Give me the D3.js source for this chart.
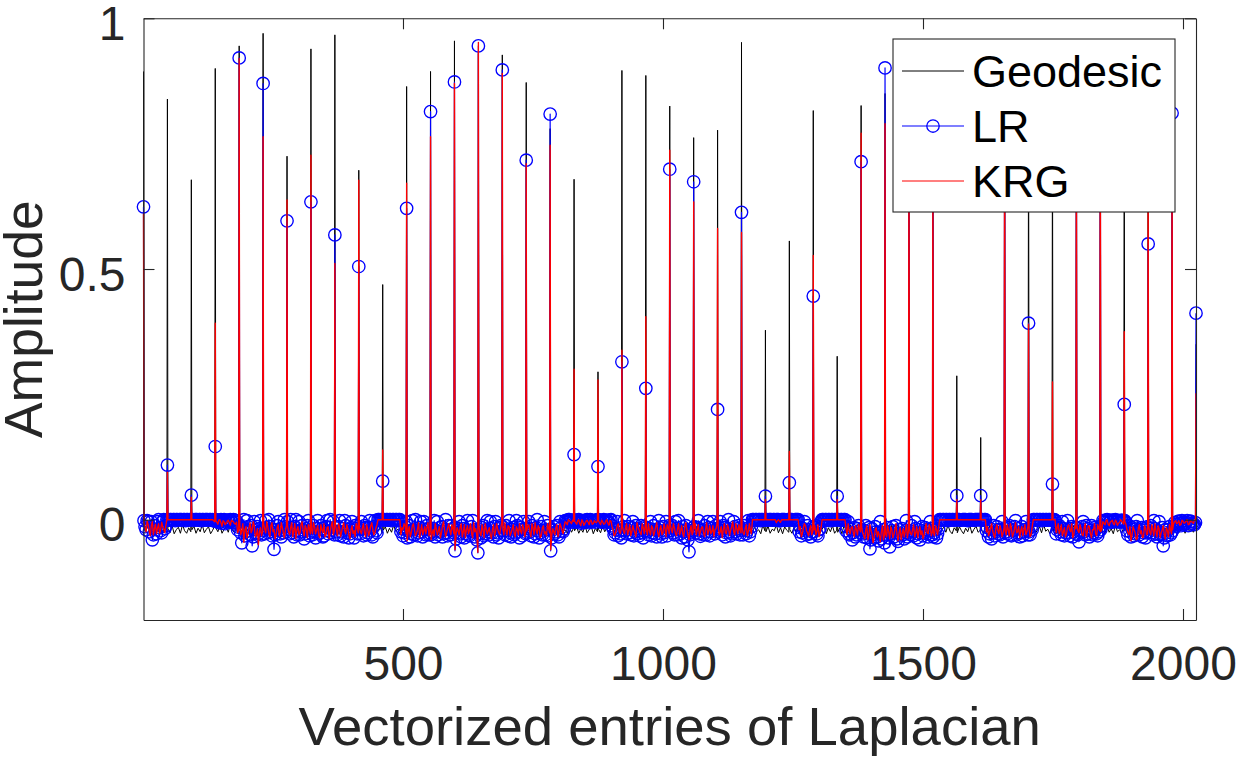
<!DOCTYPE html>
<html>
<head>
<meta charset="utf-8">
<script src="https://cdn.jsdelivr.net/npm/d3@7"></script>
<style>
  body { margin: 0; background: #fff; }
  svg { display: block; font-family: "Liberation Sans", Arial, Helvetica, sans-serif; }
</style>
</head>
<body>
<div id="graph"></div>
<script>
// diagonal entries of the 45x45 Laplacian (one spike per node)
const geoDiag = [0.894, 0.839, 0.678, 0.900, 0.945, 0.970, 0.725, 0.939, 0.967, 0.697,
  0.469, 0.864, 0.894, 0.955, 0.930, 0.927, 0.872, 0.780, 0.679, 0.295,
  0.896, 0.886, 0.825, 0.762, 0.777, 0.952, 0.378, 0.556, 0.816, 0.326,
  0.826, 0.850, 0.920, 0.880, 0.287, 0.164, 0.950, 0.900, 0.850, 0.930,
  0.940, 0.880, 0.900, 0.920, 0.350];
const lrDiag = [0.624, 0.109, 0.049, 0.146, 0.921, 0.870, 0.596, 0.634, 0.568, 0.505,
  0.077, 0.621, 0.814, 0.873, 0.945, 0.897, 0.717, 0.809, 0.130, 0.106,
  0.315, 0.262, 0.699, 0.674, 0.220, 0.613, 0.047, 0.074, 0.446, 0.047,
  0.714, 0.901, 0.850, 0.780, 0.048, 0.048, 0.880, 0.392, 0.071, 0.800,
  0.860, 0.230, 0.550, 0.811, 0.412];
const krgDiag = [0.610, 0.095, 0.045, 0.392, 0.920, 0.764, 0.638, 0.727, 0.511, 0.677,
  0.139, 0.671, 0.764, 0.870, 0.952, 0.890, 0.710, 0.747, 0.300, 0.279,
  0.338, 0.405, 0.737, 0.634, 0.581, 0.573, 0.040, 0.136, 0.527, 0.040,
  0.771, 0.790, 0.800, 0.720, 0.040, 0.040, 0.820, 0.390, 0.275, 0.760,
  0.830, 0.375, 0.700, 0.750, 0.252];

// off-diagonal entries between two diagonals, sampled at these offsets
// from the diagonal before them (values in units of 0.001)
const geoIdx = [1, 5, 9, 13, 17, 21, 25, 29, 33, 37, 41, 45];
const fineIdx = [1, 3, 5, 7, 9, 11, 13, 15, 17, 19, 21, 23, 25, 27, 29, 31, 33, 35, 37, 39, 41, 43, 45];

const geoOff = [
  [-14,-22,-9,-25,-17,-12,-23,-8,-19,-26,-13,-20],
  [-18,-26,-12,-28,-20,-15,-27,-10,-22,-27,-16,-24],
  [-20,-13,-27,-17,-24,-10,-26,-19,-14,-28,-21,-12],
  [-16,-24,-11,-27,-19,-13,-25,-9,-21,-26,-15,-18],
  [-18,-12,-25,-15,-22,-9,-27,-17,-13,-24,-20,-11],
  [-15,-23,-10,-26,-18,-12,-24,-8,-20,-27,-14,-19],
  [-20,-14,-26,-11,-23,-17,-28,-13,-21,-9,-25,-16],
  [-13,-25,-18,-10,-27,-15,-22,-8,-24,-19,-12,-26],
  [-22,-12,-27,-16,-20,-9,-25,-14,-28,-18,-11,-23],
  [-17,-24,-11,-26,-14,-21,-8,-25,-19,-23,-13,-27],
  [-21,-14,-27,-17,-25,-11,-23,-19,-28,-15,-22,-12],
  [-16,-24,-10,-27,-19,-13,-25,-9,-22,-26,-14,-20],
  [-19,-12,-26,-15,-23,-10,-27,-17,-21,-13,-24,-18],
  [-14,-25,-18,-11,-27,-16,-22,-9,-24,-19,-13,-26],
  [-23,-13,-26,-17,-21,-10,-28,-15,-20,-12,-25,-18],
  [-16,-22,-11,-27,-18,-14,-25,-9,-23,-20,-13,-26],
  [-20,-13,-25,-17,-22,-10,-27,-15,-24,-11,-26,-18],
  [-15,-24,-10,-26,-18,-12,-23,-20,-27,-14,-25,-17],
  [-22,-14,-27,-18,-25,-11,-26,-20,-13,-28,-17,-24],
  [-19,-26,-12,-24,-16,-28,-14,-18,-22,-11,-25,-15],
  [-17,-23,-12,-26,-14,-21,-9,-27,-19,-24,-13,-20],
  [-24,-15,-20,-10,-27,-18,-13,-25,-21,-9,-26,-16],
  [-16,-25,-11,-22,-18,-27,-13,-24,-9,-20,-26,-14],
  [-21,-13,-26,-17,-23,-10,-28,-15,-20,-12,-25,-19],
  [-14,-22,-18,-26,-11,-24,-16,-27,-13,-21,-9,-25],
  [-18,-25,-12,-23,-16,-27,-14,-24,-20,-28,-11,-22],
  [-24,-13,-27,-19,-22,-10,-26,-16,-28,-14,-21,-25],
  [-20,-27,-15,-24,-12,-18,-25,-9,-22,-14,-26,-17],
  [-13,-23,-17,-26,-19,-11,-28,-16,-24,-12,-27,-21],
  [-25,-16,-28,-12,-20,-23,-10,-26,-18,-14,-24,-19],
  [-17,-24,-12,-27,-20,-14,-25,-10,-22,-18,-26,-13],
  [-22,-15,-27,-11,-24,-18,-9,-26,-14,-21,-28,-16],
  [-15,-26,-19,-12,-24,-17,-28,-10,-22,-25,-13,-20],
  [-18,-24,-13,-27,-20,-15,-25,-11,-23,-28,-16,-22],
  [-26,-14,-22,-28,-17,-24,-11,-27,-19,-13,-25,-21],
  [-20,-27,-15,-23,-12,-25,-18,-10,-26,-21,-14,-24],
  [-14,-23,-18,-26,-11,-24,-16,-28,-20,-12,-25,-17],
  [-17,-25,-12,-27,-21,-14,-26,-10,-23,-19,-28,-15],
  [-23,-13,-26,-18,-21,-11,-27,-16,-24,-20,-12,-25],
  [-19,-25,-14,-22,-10,-27,-17,-24,-12,-20,-26,-15],
  [-15,-22,-27,-13,-25,-18,-28,-11,-24,-20,-26,-16],
  [-21,-14,-26,-18,-24,-11,-27,-16,-22,-13,-25,-19],
  [-16,-23,-12,-27,-19,-25,-10,-22,-17,-28,-14,-20],
  [-18,-24,-13,-26,-20,-15,-27,-11,-23,-19,-25,-14]
];

const lrOff = [
  [-2,-14,-20,-2,-4,-24,-15,-4,-40,-30,-12,-20,-28,-4,0,-16,-22,-26,-4,0,-18,-12,0],
  [0,-1,0,0,-1,0,0,-2,0,0,-1,0,0,0,-1,0,0,-2,0,0,-1,0,0],
  [0,0,-1,0,0,0,-1,0,0,-2,0,0,-1,0,0,0,-1,0,0,-1,0,-2,-3],
  [0,-2,-4,-6,-1,0,-7,-3,0,-8,-5,-1,-2,-4,0,-3,-6,0,-1,-5,-3,-20,-15],
  [-12,-26,-46,-18,0,-32,-24,-2,-14,-22,-30,-12,-52,-34,-4,-26,-20,-14,-28,-18,-2,-30,-22],
  [-18,-28,-2,-16,-26,0,-14,-24,-32,-20,-59,-30,-20,-12,-4,-22,-28,-34,-16,-26,0,-14,-24],
  [-4,-20,-28,0,-16,-26,-34,-14,0,-30,-22,-4,-30,-24,-12,-20,-38,-28,-18,-12,-2,-32,-26],
  [-22,-30,-12,-24,-36,-18,-2,-28,-26,-12,-18,-34,-32,-22,-14,-2,-28,-16,0,-26,-20,-4,-30],
  [-16,-24,-30,-14,-2,-32,-24,-18,-34,-2,-12,-26,-20,-36,-28,-16,-4,-22,-36,-12,-18,-28,-14],
  [-20,-28,-4,-18,-32,-12,-16,-30,-26,-16,-2,-22,-30,-34,-14,-2,-22,-26,0,0,-1,0,0],
  [0,0,-1,0,0,-1,0,0,-2,0,0,-1,0,0,-1,0,0,-24,-18,-32,-26,-14,-4],
  [-36,-22,-12,-34,-28,-2,-20,-30,0,-18,-32,-26,-16,-4,-24,-34,-4,-20,-30,-12,-18,-30,-26],
  [-30,-24,-18,-2,-34,-22,-4,-30,-24,-16,-14,-34,-28,-20,0,-26,-32,-12,-20,-30,-12,-18,-26],
  [-62,-38,-26,-18,-4,-28,-34,-12,-18,-36,-28,-20,-2,-30,-32,-22,-14,-2,-24,-34,-20,-40,-66],
  [-20,-28,-36,-16,-12,-32,-28,-20,-2,-24,-30,-4,-18,-26,-34,-14,-4,-30,-26,-36,-16,-12,-22],
  [-14,-22,-30,-12,-22,-32,-2,-26,-34,-20,-16,-30,-26,-2,-12,-24,-36,-16,-20,-32,-4,-18,-28],
  [-26,-18,-4,-24,-32,-12,-18,-34,-28,-16,0,-22,-36,-26,-14,-30,-22,-4,-30,-20,-12,-32,-20],
  [-62,-36,-20,-14,-28,-24,-12,-30,-34,-4,-16,-22,-24,-18,-2,-3,-5,0,0,-2,-4,-5,-1],
  [-1,-3,-5,-1,0,-4,-7,-2,-2,-6,-4,-1,0,-3,-6,0,-1,-4,-3,-2,-5,-1,0],
  [0,-2,-4,-5,-2,0,-6,-3,-1,-4,-5,-1,0,-12,-18,-30,-26,-20,-4,-32,-22,-28,-36],
  [-20,-14,-2,-22,-28,-20,-14,-26,-30,-16,-4,-32,-24,-12,-18,-28,-32,-22,-12,-26,-36,-14,-22],
  [-16,-24,-30,-18,-4,-32,-26,-12,-20,-28,-34,-20,-2,-16,-28,-34,-14,-26,-22,-4,-32,-22,-12],
  [-22,-16,-12,-26,-30,-4,-18,-30,-2,-20,-28,-36,-14,-24,-34,-12,-20,-40,-64,-30,-26,-22,-16],
  [-14,-20,-26,-16,-2,-28,-33,-22,-20,-30,-12,-24,-30,-4,-16,-32,-24,-18,-4,-22,-28,-12,-18],
  [-24,-16,-4,-22,-30,-12,-16,-34,-26,-18,0,-24,-32,-28,-20,-4,-14,-24,-28,-18,-12,-30,-22],
  [-20,-30,-12,-18,-28,-22,-2,-32,-24,-14,0,0,-1,0,0,-1,0,0,-2,0,0,-1,0],
  [0,0,-1,0,0,0,-1,0,0,-1,0,0,0,-2,-2,0,0,0,0,-1,-1,0,0],
  [0,0,0,-1,-1,0,0,0,0,-24,-16,-32,-26,-18,-4,-22,-30,-12,-20,-28,-34,-24,-14],
  [-24,-16,-12,-28,-32,-20,-18,-4,0,0,-1,0,0,-1,0,0,-2,0,0,-1,0,0,0],
  [0,0,-1,0,0,-1,0,0,-22,-14,-4,-30,-28,-20,-40,-26,-16,-34,-30,-18,-12,-22,-26],
  [-20,-28,-34,-22,-12,-36,-28,-16,-58,-40,-18,-30,-36,-14,-24,-34,-42,-26,-4,-38,-30,-20,-46],
  [-30,-24,-16,-36,-54,-28,-22,-14,-34,-26,-12,-38,-43,-20,-28,-32,-18,-30,-38,-22,-2,-34,-26],
  [-22,-30,-12,-24,-32,-4,-18,-36,-28,-20,-40,-26,-14,-32,-26,-16,-20,-28,-34,-22,-4,-18,-30],
  [-34,-26,-20,-36,-28,-18,0,0,-1,0,0,-1,0,0,-2,0,0,-1,0,0,-1,0,0],
  [0,0,0,-1,-1,0,0,0,0,-1,-2,0,0,0,0,-1,-1,0,0,0,0,0,0],
  [0,0,-1,0,0,-22,-16,-34,-28,-18,-38,-26,-12,-32,-24,-14,-20,-28,-30,-20,-4,-34,-26],
  [-18,-24,-28,-16,-12,-30,-32,-22,-20,-14,-2,-30,-26,-18,-34,-26,-14,-32,-24,-20,-4,-22,-30],
  [-24,-30,-14,-20,0,0,-1,0,0,-1,0,0,-2,0,0,-1,0,0,-1,0,0,-1,0],
  [0,0,-1,-28,-20,-16,-12,-24,-30,-4,-18,-32,-26,-20,-2,-26,-32,-18,-14,-34,-24,-16,-28],
  [-16,-30,-44,-26,-22,-14,-4,-24,-30,-12,-18,-28,-34,-22,-12,-30,-26,-16,-20,-28,-32,-24,-14],
  [-20,-12,-2,-4,-5,-1,0,-3,-6,-2,-1,-5,-4,-1,0,-4,-3,-2,-5,-3,-1,-4,-2],
  [-2,-6,-22,-30,-12,-24,-34,-16,-20,-32,-28,-14,-2,-22,-30,-20,-16,-34,-26,-18,-36,-26,-14],
  [-24,-18,-12,-26,-30,-2,-18,-28,-34,-22,-4,-30,-28,-16,-52,-36,-20,-26,-32,-20,-14,-30,-26],
  [-22,-14,-6,-9,-10,-4,-3,-8,-12,-2,-5,-10,-8,-6,-2,-12,-11,-3,-4,-7,-9,-10,-6]
];

const krgOff = [
  [-6,-16,-24,-3,-10,-22,-32,-12,-4,-30,-18,-9,-28,-17,-8,-27,-20,-5,-14,-19,-26,-11,0],
  [0,0,0,0,0,0,0,0,0,0,0,0,0,0,0,0,0,0,0,0,0,0,0],
  [0,0,0,0,0,0,0,0,0,0,0,0,0,0,0,0,0,0,0,0,0,-2,-4],
  [-2,-5,-9,-1,0,-6,-13,-2,-4,-10,-7,-3,-1,-6,-11,-1,-3,-4,-8,-9,-5,-26,-20],
  [-10,-30,-22,-8,-45,-20,-14,-36,-28,-16,-6,-26,-20,-4,-12,-34,-30,-18,-50,-24,-16,-32,-24],
  [-8,-18,-26,-4,-14,-28,-34,-12,-6,-24,-20,-38,-30,-16,-10,-32,-24,-6,-16,-26,-36,-20,-12],
  [-12,-24,-30,-16,-6,-34,-22,-8,-38,-20,-14,-30,-26,-10,-4,-22,-32,-12,-18,-36,-10,-18,-28],
  [-18,-28,-6,-14,-28,-20,-12,-32,-36,-10,-20,-26,-8,-34,-30,-16,-14,-38,-24,-12,-4,-30,-22],
  [-10,-20,-32,-8,-16,-34,-24,-14,-6,-22,-28,-10,-18,-30,-38,-20,-12,-28,-22,-34,-8,-16,-26],
  [-14,-22,-28,-16,-8,-26,-34,-10,-18,-32,-24,-12,-6,-20,-30,-26,-16,-10,0,0,0,0,0],
  [0,0,0,0,0,0,0,0,0,0,0,0,0,0,0,0,0,-30,-16,-20,-8,-12,-28],
  [-42,-24,-14,-34,-26,-12,-8,-20,-32,-28,-18,-6,-36,-24,-10,-30,-22,-14,-28,-16,-6,-32,-20],
  [-40,-28,-20,-32,-8,-18,-30,-22,-14,-36,-26,-12,-4,-20,-34,-26,-16,-8,-22,-30,-10,-18,-28],
  [-60,-30,-16,-22,-30,-14,-8,-34,-24,-10,-36,-20,-12,-28,-20,-8,-28,-36,-6,-24,-18,-32,-65],
  [-12,-26,-32,-10,-20,-36,-8,-18,-28,-22,-16,-30,-38,-20,-10,-32,-24,-8,-18,-26,-30,-16,-6],
  [-18,-30,-6,-20,-30,-12,-14,-32,-26,-18,-10,-28,-34,-14,-20,-30,-8,-22,-28,-10,-16,-34,-24],
  [-22,-14,-10,-26,-34,-8,-16,-30,-6,-20,-28,-12,-18,-36,-32,-16,-12,-28,-24,-32,-8,-18,-26],
  [-60,-32,-18,-24,-30,-16,-10,-34,-24,-8,-14,-22,-28,-12,-4,-6,-10,0,-2,-5,-8,-1,-3],
  [-3,-6,-9,-2,0,-8,-12,0,-4,-11,-7,-3,-1,-5,-10,-1,-2,-9,-8,-2,-5,-6,-1],
  [-2,-6,-10,-1,-4,-9,-8,-3,0,-7,-11,-2,-3,-14,-20,-32,-30,-22,-12,-8,-24,-28,-16],
  [-14,-22,-28,-16,-8,-30,-22,-10,-32,-24,-12,-20,-26,-34,-6,-14,-20,-26,-30,-8,-16,-28,-10],
  [-20,-30,-8,-22,-30,-12,-16,-32,-24,-14,-6,-26,-34,-20,-12,-30,-26,-8,-18,-34,-10,-16,-28],
  [-10,-20,-26,-8,-16,-28,-32,-18,-8,-30,-22,-12,-28,-34,-14,-6,-20,-30,-40,-22,-12,-30,-24],
  [-18,-8,-30,-20,-10,-32,-24,-16,-14,-26,-34,-18,-6,-30,-22,-12,-28,-24,-12,-34,-20,-18,-8],
  [-12,-30,-24,-14,-36,-20,-8,-26,-28,-10,-16,-32,-22,-14,-4,-24,-30,-8,-18,-28,-10,-20,-26],
  [-16,-26,-30,-18,-10,-32,-24,-8,-20,-28,0,0,0,0,0,0,0,0,0,0,0,0,0],
  [0,0,0,0,0,0,0,0,0,0,-6,-2,0,-3,-5,0,0,0,0,0,0,0,0],
  [0,0,0,0,0,0,0,0,0,-20,-14,-34,-28,-16,-8,-12,-22,-26,-32,-20,-12,-30,-24],
  [-20,-12,-30,-24,-10,-34,-26,-16,0,0,0,0,0,0,0,0,0,0,0,0,0,0,0],
  [0,0,0,0,0,0,0,0,-18,-30,-8,-22,-28,-16,-14,-26,-34,-12,-20,-30,-10,-18,-24],
  [-14,-26,-32,-38,-20,-12,-40,-30,-10,-22,-28,-46,-36,-20,-16,-34,-24,-30,-44,-24,-12,-40,-30],
  [-26,-34,-12,-24,-38,-14,-20,-36,-30,-20,-8,-30,-42,-26,-16,-40,-28,-18,-34,-22,-10,-36,-24],
  [-18,-28,-30,-20,-10,-34,-26,-14,-36,-24,-14,-30,-22,-38,-32,-18,-8,-26,-28,-10,-16,-32,-24],
  [-24,-32,-12,-20,-30,-16,0,0,0,0,0,0,0,0,0,0,0,0,0,0,0,0,0],
  [0,0,0,0,0,0,0,0,0,0,0,0,0,0,0,0,0,0,0,0,0,0,0],
  [0,0,0,0,0,-24,-14,-32,-26,-16,-8,-22,-30,-36,-18,-10,-22,-28,-12,-20,-34,-26,-16],
  [-22,-30,-10,-20,-32,-8,-16,-34,-28,-18,-6,-26,-24,-14,-36,-22,-14,-32,-20,-10,-30,-24,-12],
  [-20,-34,-30,-14,0,0,0,0,0,0,0,0,0,0,0,0,0,0,0,0,0,0,0],
  [0,0,0,-26,-16,-8,-28,-20,-10,-32,-24,-16,-34,-28,-14,-10,-20,-24,-8,-36,-30,-12,-18],
  [-12,-22,-26,-10,-18,-30,-32,-16,-8,-34,-24,-12,-14,-28,-36,-20,-20,-8,-28,-32,-10,-18,-22],
  [-24,-18,-4,-7,-10,-2,0,-9,-12,-5,-3,-1,-8,-10,-1,-4,-11,-7,-5,0,-2,-6,-9],
  [-3,-8,-18,-26,-30,-14,-42,-30,-14,-20,-26,-40,-38,-18,-10,-28,-22,-36,-34,-12,-16,-30,-28],
  [-14,-24,-30,-10,-20,-32,-8,-22,-34,-12,-18,-36,-26,-20,-12,-30,-38,-16,-22,-34,-10,-20,-28],
  [-20,-8,-4,-2,-8,-6,-2,-11,-10,-1,-3,-7,-6,-3,0,-10,-9,-2,-4,-5,-7,-1,-2]
];

const seriesNames = ["Geodesic", "LR", "KRG"];
const seriesColors = ["#000000", "#0000ff", "#ff0000"];
const xTicks = [500, 1000, 1500, 2000];
const yTicks = [0, 0.5, 1];
const nEntries = 2025;

// diagonal k sits at vectorized index 46k+1, off-diagonals follow it
const buildSeries = (diag, off, idx) => {
  const pts = [];
  diag.forEach((d, k) => {
    pts.push({ i: 46 * k + 1, v: d });
    if (k < off.length) {
      off[k].forEach((o, j) => pts.push({ i: 46 * k + 1 + idx[j], v: o / 1000 }));
    }
  });
  return pts;
};

const graph = () => {
  const W = 1236, H = 761;
  const plot = { left: 143.5, right: 1196, top: 18.3, bottom: 620 };
  const axisColor = "#262626";

  const svg = d3.select("#graph").append("svg").attr("width", W).attr("height", H);

  const x = d3.scaleLinear().domain([1, nEntries]).range([plot.left, plot.right]);
  const y = d3.scaleLinear().domain([-0.2, 1]).range([plot.bottom, plot.top]);

  const geo = buildSeries(geoDiag, geoOff, geoIdx);
  const lr = buildSeries(lrDiag, lrOff, fineIdx);
  const krg = buildSeries(krgDiag, krgOff, fineIdx);

  const line = d3.line().x(d => x(d.i)).y(d => y(d.v));

  // black first, then blue line + circles, red on top (matlab plot order)
  svg.append("path").datum(geo)
    .attr("fill", "none").attr("stroke", seriesColors[0]).attr("stroke-width", 1)
    .attr("stroke-linejoin", "round").attr("d", line);

  svg.append("path").datum(lr)
    .attr("fill", "none").attr("stroke", seriesColors[1]).attr("stroke-width", 1.2)
    .attr("stroke-linejoin", "round").attr("d", line);

  svg.append("g").selectAll("circle").data(lr).enter().append("circle")
    .attr("cx", d => x(d.i)).attr("cy", d => y(d.v)).attr("r", 6.2)
    .attr("fill", "none").attr("stroke", seriesColors[1]).attr("stroke-width", 1.35);

  svg.append("path").datum(krg)
    .attr("fill", "none").attr("stroke", seriesColors[2]).attr("stroke-width", 1.35)
    .attr("stroke-linejoin", "round").attr("d", line);

  // axes, ticks pointing inward, box on all four sides
  const styleAxis = g => {
    g.select(".domain").attr("stroke", axisColor).attr("stroke-width", 1.1);
    g.selectAll(".tick line").attr("stroke", axisColor).attr("stroke-width", 1.1);
    g.selectAll(".tick text").attr("fill", axisColor)
      .style("font-size", "48px").style("font-family", "'Liberation Sans', Arial, sans-serif");
  };

  svg.append("g")
    .attr("transform", `translate(0,${plot.bottom})`)
    .call(d3.axisBottom(x).tickValues(xTicks).tickSizeInner(-11).tickSizeOuter(0).tickPadding(26)
      .tickFormat(d => String(d)))
    .call(styleAxis);

  svg.append("g")
    .attr("transform", `translate(0,${plot.top})`)
    .call(d3.axisTop(x).tickValues(xTicks).tickSizeInner(-11).tickSizeOuter(0).tickFormat(""))
    .call(styleAxis);

  svg.append("g")
    .attr("transform", `translate(${plot.left},0)`)
    .call(d3.axisLeft(y).tickValues(yTicks).tickSizeInner(-11).tickSizeOuter(0).tickPadding(18)
      .tickFormat(d => String(d)))
    .call(styleAxis)
    .call(g => g.selectAll(".tick text").attr("dy", "0.44em"));

  svg.append("g")
    .attr("transform", `translate(${plot.right},0)`)
    .call(d3.axisRight(y).tickValues(yTicks).tickSizeInner(-11).tickSizeOuter(0).tickFormat(""))
    .call(styleAxis);

  // axis labels
  svg.append("text")
    .attr("x", (plot.left + plot.right) / 2)
    .attr("y", 745)
    .attr("text-anchor", "middle")
    .attr("fill", axisColor)
    .style("font-size", "54.5px")
    .text("Vectorized entries of Laplacian");

  svg.append("text")
    .attr("transform", `translate(42,${(plot.top + plot.bottom) / 2}) rotate(-90)`)
    .attr("text-anchor", "middle")
    .attr("fill", axisColor)
    .style("font-size", "53.5px")
    .text("Amplitude");

  // legend
  const lg = { x: 893, y: 39, w: 282, h: 173, row: 55 };
  const legend = svg.append("g").attr("id", "legend");
  legend.append("rect")
    .attr("x", lg.x).attr("y", lg.y).attr("width", lg.w).attr("height", lg.h)
    .attr("fill", "white").attr("stroke", axisColor).attr("stroke-width", 1.1);

  seriesNames.forEach((name, idx) => {
    const cy = lg.y + 32 + lg.row * idx;
    legend.append("line")
      .attr("x1", lg.x + 9).attr("x2", lg.x + 71).attr("y1", cy).attr("y2", cy)
      .attr("stroke", seriesColors[idx]).attr("stroke-width", idx === 0 ? 1 : 1.2);
    if (name === "LR") {
      legend.append("circle")
        .attr("cx", lg.x + 40).attr("cy", cy).attr("r", 6.2)
        .attr("fill", "none").attr("stroke", seriesColors[1]).attr("stroke-width", 1.35);
    }
    legend.append("text")
      .attr("x", lg.x + 79).attr("y", cy + 16)
      .attr("fill", "black")
      .style("font-size", "45px")
      .text(name);
  });
};

window.addEventListener("DOMContentLoaded", () => {
  graph();
});
</script>
</body>
</html>
